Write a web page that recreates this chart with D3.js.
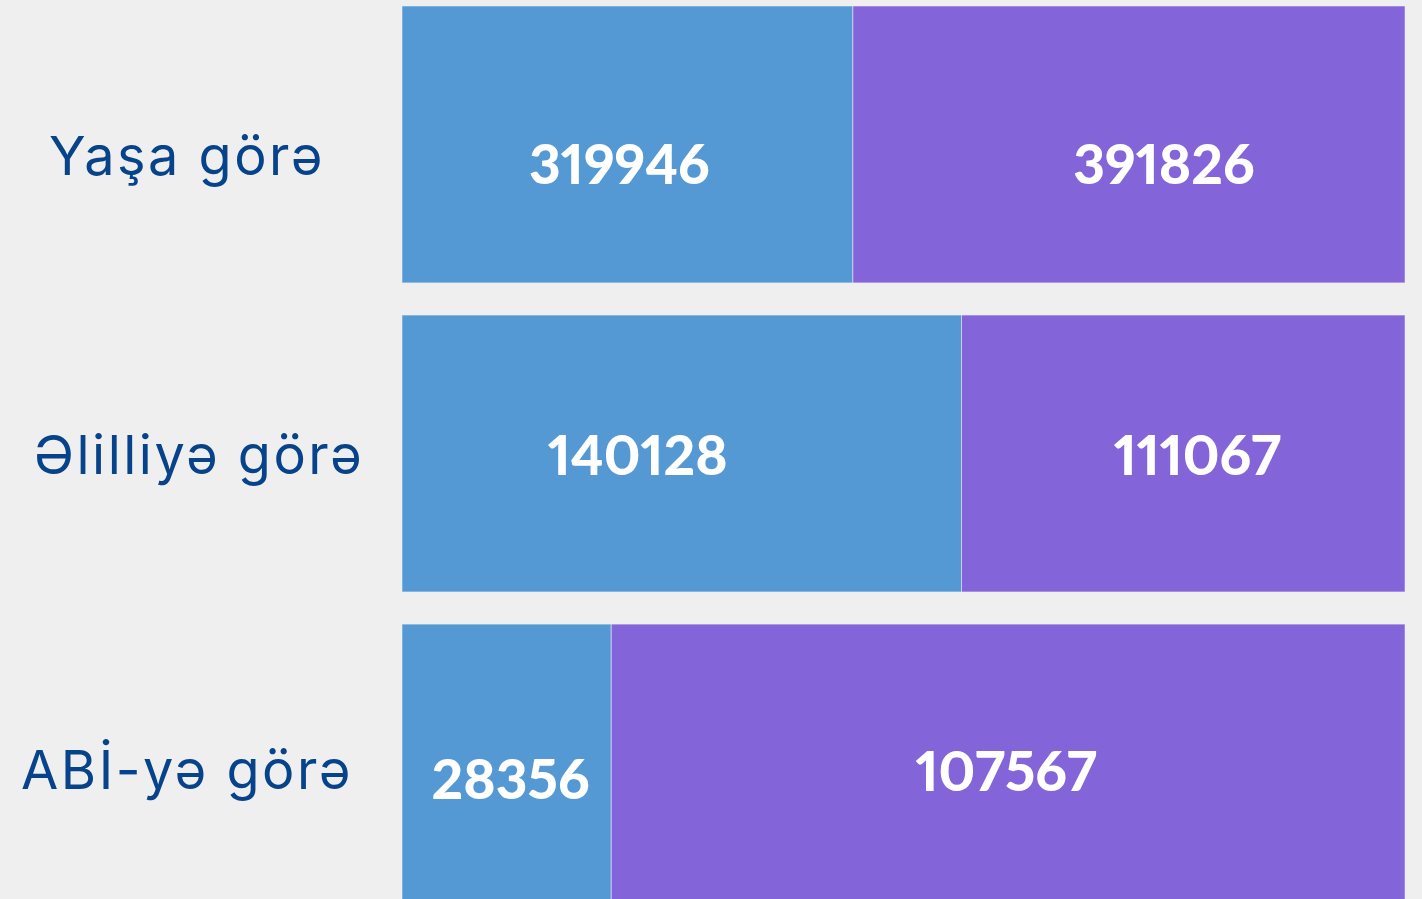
<!DOCTYPE html>
<html>
<head>
<meta charset="utf-8">
<script src="https://cdn.jsdelivr.net/npm/d3@7"></script>
<style>
  html, body { margin: 0; padding: 0; background: #efefef; }
  svg { display: block; }
</style>
</head>
<body>
<svg id="chart" width="1422" height="899"></svg>
<script>
// ---- data ----
const categories = ["Yaşa görə", "Əlilliyə görə", "ABİ-yə görə"];
const seriesA = [319946, 140128, 28356];
const seriesB = [391826, 111067, 107567];

// ---- layout (label nudges, px) ----
const catLabelX = [187, 199, 187];
const catLabelDy = [31, 20, 26];
const valDxA = [-8, -44, 4];
const valDxB = [35, 14, -2];
const valDyA = [40, 21, 36];
const valDyB = [40, 21, 28];

const colors = ["#5499d3", "#8464d9"];

const svg = d3.select("#chart");

const x = d3.scaleLinear().domain([0, 1]).range([402, 1405]);
const y = d3.scaleBand().domain(categories).range([6, 901]).paddingInner(0.104).paddingOuter(0);

const rows = categories.map((c, i) => {
  const total = seriesA[i] + seriesB[i];
  return { c, i, a: seriesA[i], b: seriesB[i], fa: seriesA[i] / total };
});

const g = svg.append("g");

rows.forEach(r => {
  const segs = [
    { v: r.a, x0: 0, x1: r.fa, col: colors[0], dx: valDxA[r.i], dy: valDyA[r.i] },
    { v: r.b, x0: r.fa, x1: 1, col: colors[1], dx: valDxB[r.i], dy: valDyB[r.i] }
  ];
  segs.forEach(s => {
    g.append("rect")
      .attr("x", x(s.x0))
      .attr("y", y(r.c))
      .attr("width", x(s.x1) - x(s.x0))
      .attr("height", y.bandwidth())
      .attr("fill", s.col)
      .attr("stroke", "rgba(235,240,250,0.55)")
      .attr("stroke-width", 1);
  });
  segs.forEach(s => {
    g.append("text")
      .attr("x", (x(s.x0) + x(s.x1)) / 2 + s.dx)
      .attr("y", y(r.c) + y.bandwidth() / 2 + s.dy)
      .attr("text-anchor", "middle")
      .attr("fill", "#ffffff")
      .style("font-family", "Lato, 'Open Sans', sans-serif")
      .style("font-weight", 900)
      .style("font-size", "55px")
      .style("font-feature-settings", "'pnum' 1")
      .style("font-variant-numeric", "proportional-nums")
      .text(s.v);
  });
  g.append("text")
    .attr("x", catLabelX[r.i])
    .attr("y", y(r.c) + y.bandwidth() / 2 + catLabelDy[r.i])
    .attr("text-anchor", "middle")
    .attr("fill", "#07438b")
    .style("font-family", "Inter, 'Noto Sans', sans-serif")
    .style("font-weight", 400)
    .style("font-size", "54px")
    .style("letter-spacing", "2.5px")
    .text(r.c);
});
</script>
</body>
</html>
